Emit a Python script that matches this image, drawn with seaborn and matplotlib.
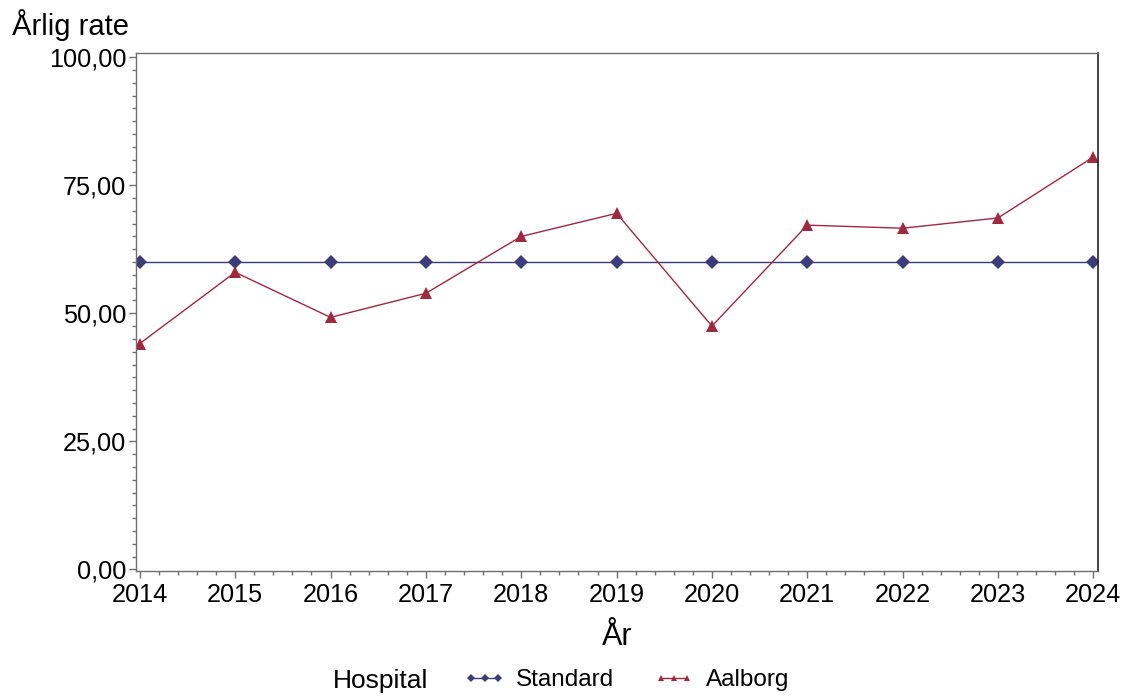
import pandas as pd
import matplotlib.pyplot as plt
import seaborn as sns
from matplotlib.lines import Line2D
from matplotlib.ticker import MultipleLocator, FuncFormatter

# data
years = [2014, 2015, 2016, 2017, 2018, 2019, 2020, 2021, 2022, 2023, 2024]
standard = [60, 60, 60, 60, 60, 60, 60, 60, 60, 60, 60]
aalborg = [44.1, 58.0, 49.2, 53.9, 65.0, 69.5, 47.5, 67.2, 66.6, 68.6, 80.5]
hospitals = ["Standard", "Aalborg"]

df = pd.DataFrame({
    "År": years * 2,
    "rate": standard + aalborg,
    "Hospital": ["Standard"] * len(years) + ["Aalborg"] * len(years),
})

sns.set_style("white")
plt.rcParams["font.family"] = ["Liberation Sans", "DejaVu Sans"]
plt.rcParams["text.color"] = "black"

colors = {"Standard": "#3b3c78", "Aalborg": "#a0283f"}
markers = {"Standard": "D", "Aalborg": "^"}
msizes = {"Standard": 7, "Aalborg": 9}

fig = plt.figure(figsize=(11.29, 7), dpi=100)
ax = fig.add_axes([0.1205, 0.1843, 0.9726 - 0.1205, 0.9243 - 0.1843])

sns.lineplot(data=df, x="År", y="rate", hue="Hospital", style="Hospital",
             hue_order=hospitals, style_order=hospitals,
             palette=colors, markers=markers, dashes=False,
             linewidth=1, markersize=7, markeredgewidth=0,
             legend=False, ax=ax)
for line, h in zip(ax.lines, hospitals):
    line.set_markersize(msizes[h])

ax.set_xlim(2013.96, 2024.05)
ax.set_ylim(-0.3, 100.8)
ax.xaxis.set_major_locator(MultipleLocator(1))
ax.xaxis.set_minor_locator(MultipleLocator(0.2))
ax.yaxis.set_major_locator(MultipleLocator(25))
ax.yaxis.set_minor_locator(MultipleLocator(2.5))
ax.xaxis.set_major_formatter(FuncFormatter(lambda v, p: f"{int(round(v))}"))
ax.yaxis.set_major_formatter(FuncFormatter(lambda v, p: f"{v:.2f}".replace(".", ",")))

ax.tick_params(axis="both", which="major", direction="out", length=5, width=1,
               color="#6f6f6f", labelcolor="black", labelsize=18.2, pad=2,
               bottom=True, left=True)
ax.tick_params(axis="both", which="minor", direction="out", length=3, width=1,
               color="#6f6f6f", bottom=True, left=True)
ax.tick_params(axis="x", which="major", pad=4)

for side in ["left", "top", "bottom"]:
    ax.spines[side].set_color("#6f6f6f")
    ax.spines[side].set_linewidth(1)
ax.spines["right"].set_color("#222222")
ax.spines["right"].set_linewidth(1.2)

ax.set_xlabel("")
ax.set_ylabel("")
fig.text(12 / 1129, 1 - 25 / 700, "Årlig rate", fontsize=21, ha="left", va="center")
fig.text(617 / 1129, 1 - 637 / 700, "År", fontsize=22, ha="center", va="center")

# legend along the bottom
fig.text(333 / 1129, 1 - 681 / 700, "Hospital", fontsize=19, ha="left", va="center")
handles = [Line2D([0], [0], color=colors[h], marker=markers[h], markersize=4,
                  markeredgewidth=0, linewidth=1) for h in hospitals]
fig.legend(handles, hospitals, loc="center left",
           bbox_to_anchor=(464 / 1129, 1 - 680 / 700), ncol=2, frameon=False,
           fontsize=17.5, numpoints=3, handlelength=1.7, handletextpad=0.45,
           columnspacing=1.6, borderpad=0, borderaxespad=0)

fig.savefig("out.png", dpi=100)
